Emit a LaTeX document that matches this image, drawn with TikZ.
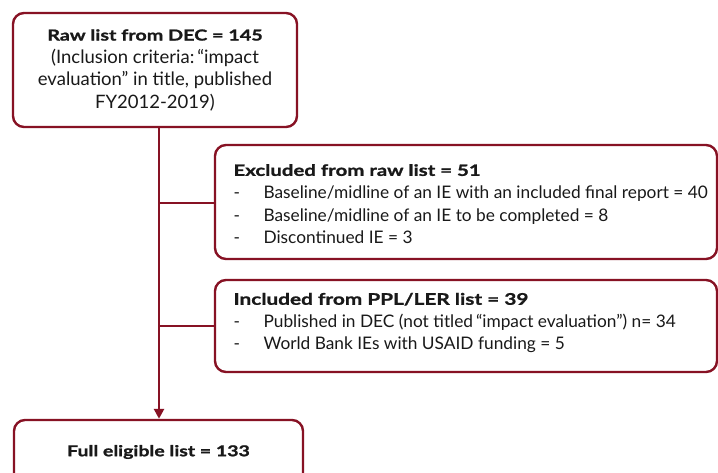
\documentclass[tikz,border=0pt]{standalone}
\usepackage{fontspec}
\setmainfont{Lato}[BoldFeatures={FakeStretch=1.3,FakeBold=1.2}]
\usetikzlibrary{arrows.meta,calc}
\definecolor{boxred}{RGB}{135,18,36}
\definecolor{txt}{RGB}{25,25,25}
\tikzset{
  box/.style={draw=boxred, line width=2.4pt, rounded corners=11pt, fill=white, inner sep=0pt, text=txt},
  conn/.style={draw=boxred, line width=2.8pt},
  listtext/.style={anchor=west, align=left, text=txt, font=\fontsize{17.3}{22.6}\selectfont}
}
\newcommand{\itm}[1]{\makebox[30pt][l]{-}#1}
\newcommand{\hd}[2]{{\fontsize{#1}{22}\selectfont\textbf{#2}}}
\begin{document}
\begin{tikzpicture}[x=1pt,y=-1pt]
\useasboundingbox (0,0) rectangle (718,472);
\clip (0,0) rectangle (718,472);
\fill[white] (0,0) rectangle (718,472);
\node[box, minimum width=284pt, minimum height=114pt, align=center, font=\fontsize{18.5}{22.5}\selectfont] (b1) at (155,70)
  {\hd{15.2}{Raw list from DEC = 145}\\(Inclusion criteria:\,``impact\\evaluation'' in title, published\\FY2012-2019)};
\node[box, minimum width=502pt, minimum height=114pt] (b2) at (466,202) {};
\node[listtext] (t2) at (230,204)
  {\hd{15.7}{Excluded from raw list = 51}\\\itm{Baseline/midline of an IE with an included final report = 40}\\\itm{Baseline/midline of an IE to be completed = 8}\\\itm{Discontinued IE = 3}};
\node[box, minimum width=502pt, minimum height=92pt] (b3) at (466,326) {};
\node[listtext] (t3) at (230,323)
  {\hd{16}{Included from PPL/LER list = 39}\\\itm{Published in DEC (not titled\,``impact evaluation'') n= 34}\\\itm{World Bank IEs with USAID funding = 5}};
\node[box, minimum width=289pt, minimum height=64pt] (b4) at (158.5,452) {\hd{15}{Full eligible list = 133}};
\coordinate (j1) at (159,203);
\coordinate (j2) at (159,326);
\draw[conn] (b1.south -| j1) -- (j1) -- (j1 -| b2.west);
\draw[conn] (j2) -- (j2 -| b3.west);
\draw[conn, -{Triangle[length=10pt,width=10pt]}] (j1) -- (b4.north -| j1);
\end{tikzpicture}
\end{document}
